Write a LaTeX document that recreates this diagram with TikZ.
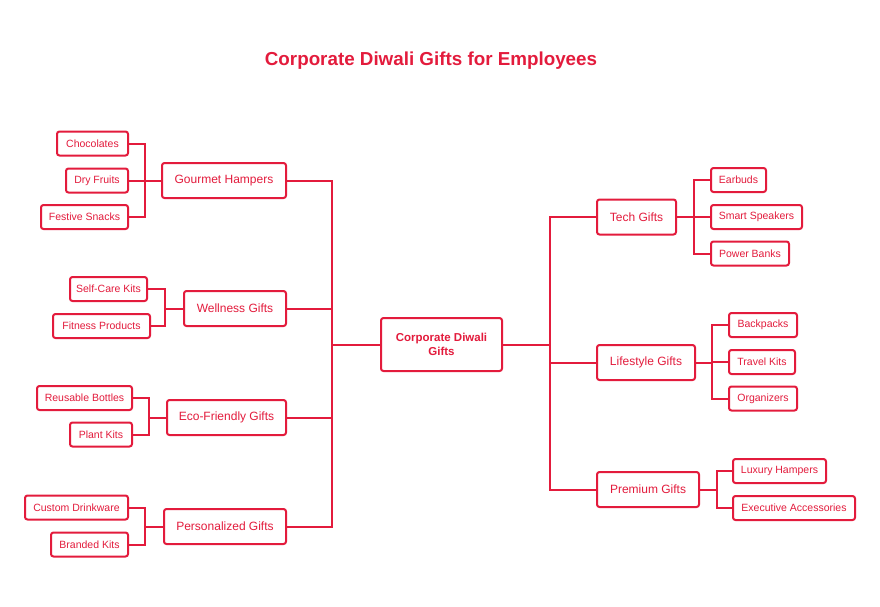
\documentclass[tikz,border=0pt]{standalone}
\usepackage{fontspec}
\setmainfont{Liberation Sans}
\definecolor{dred}{RGB}{227,27,60}
\begin{document}
\begin{tikzpicture}[x=1pt,y=-1pt,
  box/.style={draw=dred,line width=2pt,rounded corners=2.5pt,fill=white,text=dred,inner sep=0pt,anchor=center},
  leaf/.style={box,font=\fontsize{10.5}{12}\selectfont,minimum height=24pt},
  mid/.style={box,font=\fontsize{12}{14}\selectfont,minimum height=35pt},
  hub/.style={box,font=\bfseries\fontsize{11.5}{14}\selectfont,align=center},
  link/.style={draw=dred,line width=2pt}]
\useasboundingbox (0,0) rectangle (880,606);
\node[text=dred,font=\bfseries\fontsize{18.8}{22}\selectfont] (title) at (431,61) {Corporate Diwali Gifts for Employees};

\node[hub,minimum width=121pt,minimum height=53pt] (hub) at (441.5,344.5) {Corporate Diwali\\Gifts};

% left mids
\node[mid,minimum width=124pt] (gh) at (224,180.5) {Gourmet Hampers};
\node[mid,minimum width=102pt] (wg) at (235,308.5) {Wellness Gifts};
\node[mid,minimum width=119pt] (eg) at (226.5,417.5) {Eco-Friendly Gifts};
\node[mid,minimum width=122pt] (pg) at (225,526.5) {Personalized Gifts};

% left leaves
\node[leaf,minimum width=71pt] (choc) at (92.5,143.5) {Chocolates};
\node[leaf,minimum width=62pt] (dry) at (97,180.5) {Dry Fruits};
\node[leaf,minimum width=87pt] (fest) at (84.5,217) {Festive Snacks};
\node[leaf,minimum width=77pt] (self) at (108.5,289) {Self-Care Kits};
\node[leaf,minimum width=97pt] (fit) at (101.5,326) {Fitness Products};
\node[leaf,minimum width=95pt] (reu) at (84.5,398) {Reusable Bottles};
\node[leaf,minimum width=62pt] (plant) at (101,434.5) {Plant Kits};
\node[leaf,minimum width=103pt] (cust) at (76.5,507.5) {Custom Drinkware};
\node[leaf,minimum width=77pt] (brand) at (89.5,544.5) {Branded Kits};

% right mids
\node[mid,minimum width=79pt] (tg) at (636.5,217) {Tech Gifts};
\node[mid,minimum width=98pt] (lg) at (646,362.5) {Lifestyle Gifts};
\node[mid,minimum width=102pt] (prg) at (648,489.5) {Premium Gifts};

% right leaves
\node[leaf,minimum width=55pt] (ear) at (738.5,180) {Earbuds};
\node[leaf,minimum width=91pt] (smart) at (756.5,217) {Smart Speakers};
\node[leaf,minimum width=78pt] (power) at (750,253.5) {Power Banks};
\node[leaf,minimum width=68pt] (back) at (763,325) {Backpacks};
\node[leaf,minimum width=66pt] (travel) at (762,362) {Travel Kits};
\node[leaf,minimum width=68pt] (org) at (763,398.5) {Organizers};
\node[leaf,minimum width=93pt] (lux) at (779.5,471) {Luxury Hampers};
\node[leaf,minimum width=122pt] (exec) at (794,508) {Executive Accessories};

% trunk
\path (hub.west) ++(-48,0) coordinate (lt);
\path (hub.east) ++(47,0) coordinate (rt);
\draw[link] (hub.west) -- (lt);
\draw[link] (hub.east) -- (rt);
\foreach \n in {gh,wg,eg,pg} \draw[link] (\n.east) -| (lt);
\foreach \n in {tg,lg,prg} \draw[link] (\n.west) -| (rt);

% left brackets
\path (gh.west) ++(-16,0) coordinate (b1);
\draw[link] (gh.west) -- (b1);
\foreach \n in {choc,dry,fest} \draw[link] (\n.east) -| (b1);
\path (wg.west) ++(-18,0) coordinate (b2);
\draw[link] (wg.west) -- (b2);
\foreach \n in {self,fit} \draw[link] (\n.east) -| (b2);
\path (eg.west) ++(-17,0) coordinate (b3);
\draw[link] (eg.west) -- (b3);
\foreach \n in {reu,plant} \draw[link] (\n.east) -| (b3);
\path (pg.west) ++(-18,0) coordinate (b4);
\draw[link] (pg.west) -- (b4);
\foreach \n in {cust,brand} \draw[link] (\n.east) -| (b4);

% right brackets
\path (tg.east) ++(17,0) coordinate (c1);
\draw[link] (tg.east) -- (c1);
\foreach \n in {ear,smart,power} \draw[link] (\n.west) -| (c1);
\path (lg.east) ++(16,0) coordinate (c2);
\draw[link] (lg.east) -- (c2);
\foreach \n in {back,travel,org} \draw[link] (\n.west) -| (c2);
\path (prg.east) ++(17,0) coordinate (c3);
\draw[link] (prg.east) -- (c3);
\foreach \n in {lux,exec} \draw[link] (\n.west) -| (c3);
\end{tikzpicture}
\end{document}
